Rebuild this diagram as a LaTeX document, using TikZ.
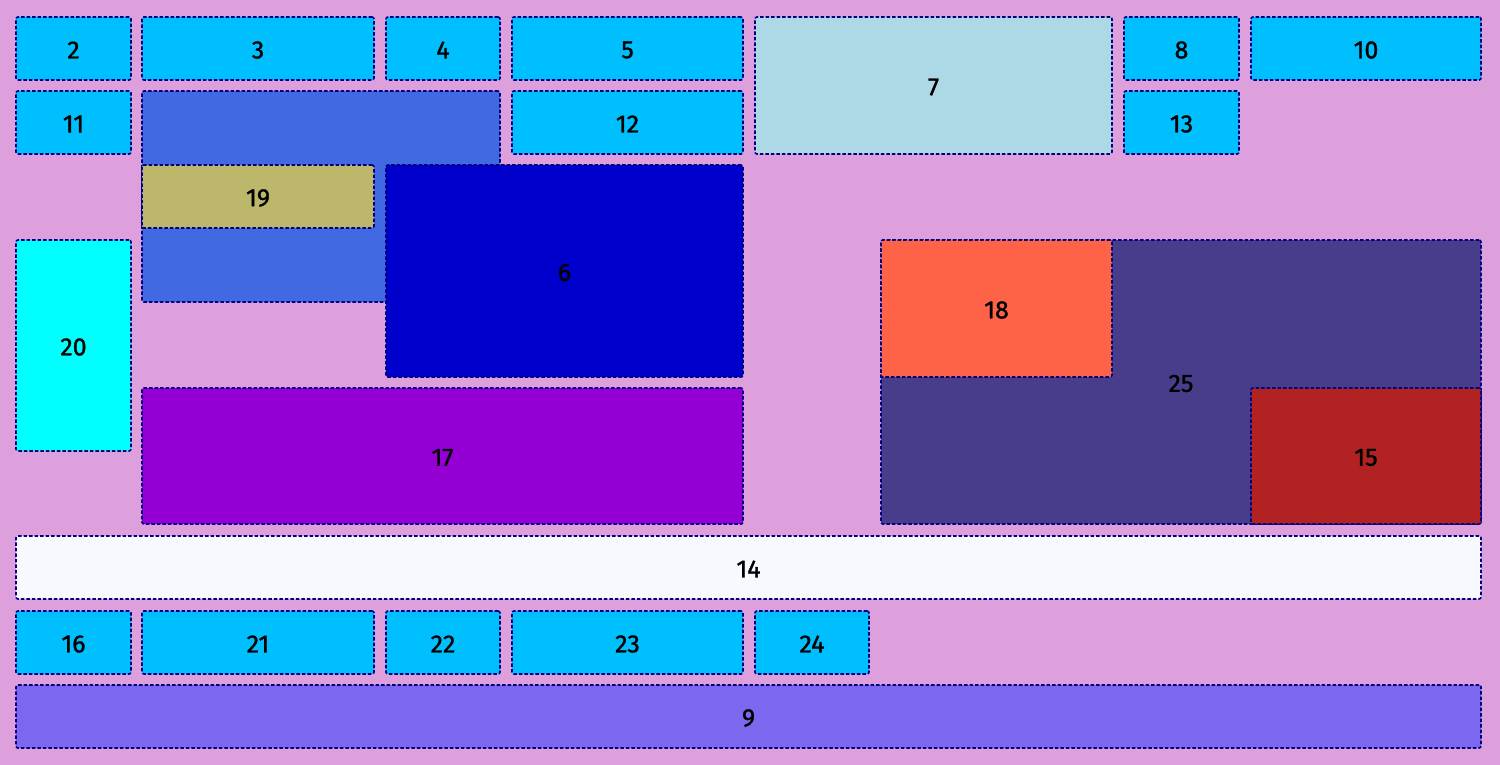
\documentclass[tikz,border=0pt]{standalone}
\usepackage{fontspec}
\setmainfont{Fira Sans}
\newfontfamily\labfont{Fira Sans}[FakeBold=1.2]
\definecolor{bg}{HTML}{DDA0DD}
\definecolor{dsb}{HTML}{00BFFF}
\definecolor{lb}{HTML}{ADD8E6}
\definecolor{rb}{HTML}{4169E1}
\definecolor{dk}{HTML}{BDB76B}
\definecolor{mb}{HTML}{0000CD}
\definecolor{cy}{HTML}{00FFFF}
\definecolor{dsl}{HTML}{483D8B}
\definecolor{tom}{HTML}{FF6347}
\definecolor{fb}{HTML}{B22222}
\definecolor{dv}{HTML}{9400D3}
\definecolor{gw}{HTML}{F8F8FF}
\definecolor{msb}{HTML}{7B68EE}
\definecolor{nv}{HTML}{000080}
\tikzset{
  box/.style={draw=nv, line width=1.6pt, dash pattern=on 3.5pt off 2pt, rounded corners=2pt,
    inner sep=0pt, outer sep=0pt},
  lab/.style={font=\labfont\fontsize{25}{28}\selectfont, text=black, inner sep=0pt}
}
\newcommand\bx[6]{\node[box, fill=#2, minimum width={(#5-#3)*1pt}, minimum height={(#6-#4)*1pt}] (n#1) at ({(#3+#5)/2},{(#4+#6)/2}) {};
  \node[lab] (t#1) at ([yshift=-1.5pt]n#1.center) {#1};}
\newcommand\bxe[6]{\node[box, fill=#2, minimum width={(#5-#3)*1pt}, minimum height={(#6-#4)*1pt}] (n#1) at ({(#3+#5)/2},{(#4+#6)/2}) {};}
\begin{document}
\begin{tikzpicture}[x=1pt,y=-1pt]
\fill[bg] (0,0) rectangle (1500,765);
\useasboundingbox (0,0) rectangle (1500,765);
\bx{2}{dsb}{16}{17}{131}{80}
\bx{3}{dsb}{142}{17}{374}{80}
\bx{4}{dsb}{386}{17}{500}{80}
\bx{5}{dsb}{512}{17}{743}{80}
\bx{7}{lb}{755}{17}{1112}{154}
\bx{8}{dsb}{1124}{17}{1239}{80}
\bx{10}{dsb}{1251}{17}{1481}{80}
\bx{11}{dsb}{16}{91}{131}{154}
\bxe{1}{rb}{142}{91}{500}{302}
\bx{12}{dsb}{512}{91}{743}{154}
\bx{13}{dsb}{1124}{91}{1239}{154}
\bx{19}{dk}{142}{165}{374}{228}
\bx{6}{mb}{386}{165}{743}{377}
\bx{20}{cy}{16}{240}{131}{451}
\bx{25}{dsl}{881}{240}{1481}{524}
\bx{18}{tom}{881}{240}{1112}{377}
\bx{15}{fb}{1251}{388}{1481}{524}
\bx{17}{dv}{142}{388}{743}{524}
\bx{14}{gw}{16}{536}{1481}{599}
\bx{16}{dsb}{16}{611}{131}{674}
\bx{21}{dsb}{142}{611}{374}{674}
\bx{22}{dsb}{386}{611}{500}{674}
\bx{23}{dsb}{512}{611}{743}{674}
\bx{24}{dsb}{755}{611}{869}{674}
\bx{9}{msb}{16}{685}{1481}{748}
\end{tikzpicture}
\end{document}
